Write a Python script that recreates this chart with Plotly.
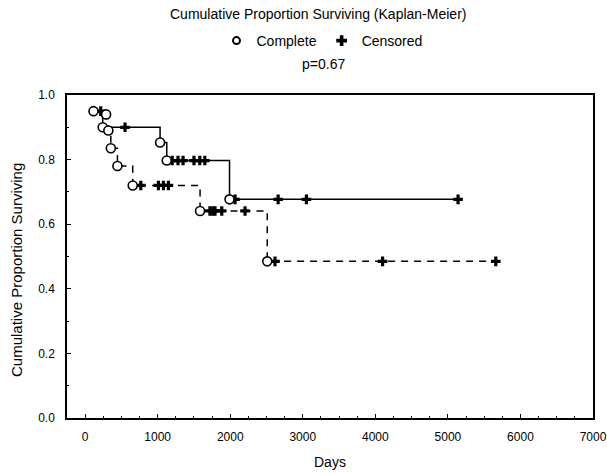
import plotly.graph_objects as go

# group 1 (solid line)
solid_event_days = [115, 242, 1033, 1125, 1990, 5140]
solid_event_surv = [0.95, 0.90, 0.853, 0.797, 0.677, 0.677]
solid_cens_days = [215, 550, 1200, 1280, 1350, 1500, 1580, 1650, 2066, 2660, 3050, 5140]
solid_cens_surv = [0.95, 0.90, 0.797, 0.797, 0.797, 0.797, 0.797, 0.797, 0.677, 0.677, 0.677, 0.677]

# group 2 (dashed line)
dash_event_days = [289, 320, 354, 445, 656, 1584, 2510, 5660]
dash_event_surv = [0.94, 0.89, 0.835, 0.78, 0.72, 0.641, 0.485, 0.485]
dash_cens_days = [767, 1010, 1079, 1148, 1720, 1760, 1790, 1883, 2204, 2617, 4100, 5660]
dash_cens_surv = [0.72, 0.72, 0.72, 0.72, 0.641, 0.641, 0.641, 0.641, 0.641, 0.485, 0.485, 0.485]

x_ticks = [0, 1000, 2000, 3000, 4000, 5000, 6000, 7000]
y_ticks = [0.0, 0.2, 0.4, 0.6, 0.8, 1.0]

fnt = dict(family="Liberation Sans, Arial", size=12, color="black")
big = dict(family="Liberation Sans, Arial", size=14, color="black")

plot_top, plot_bot, plot_left, plot_right = 95, 418, 67, 593
plot_h = plot_bot - plot_top
plot_w = plot_right - plot_left


def py(page_y):
    return (plot_bot - page_y) / plot_h


def px(page_x):
    return (page_x - plot_left) / plot_w


fig = go.Figure()

fig.add_trace(go.Scatter(x=solid_event_days, y=solid_event_surv, mode="lines",
                         line=dict(color="black", width=1.5, shape="hv"), showlegend=False))
fig.add_trace(go.Scatter(x=dash_event_days, y=dash_event_surv, mode="lines",
                         line=dict(color="black", width=1.5, shape="hv", dash="7px,6px"), showlegend=False))

for d, s in [(solid_cens_days, solid_cens_surv), (dash_cens_days, dash_cens_surv)]:
    fig.add_trace(go.Scatter(x=d, y=s, mode="markers",
                             marker=dict(symbol="cross", size=8, color="black", line=dict(width=0)),
                             showlegend=False))

# complete (event) circles, last points of each line are censored only
fig.add_trace(go.Scatter(x=solid_event_days[:-1] + dash_event_days[:-1],
                         y=solid_event_surv[:-1] + dash_event_surv[:-1], mode="markers",
                         marker=dict(symbol="circle", size=9, color="white",
                                     line=dict(color="black", width=1.6)),
                         showlegend=False))

# legend entries
fig.add_trace(go.Scatter(x=[None], y=[None], mode="markers", name="Complete",
                         marker=dict(symbol="circle", size=7, color="white",
                                     line=dict(color="black", width=2))))
fig.add_trace(go.Scatter(x=[None], y=[None], mode="markers", name="Censored",
                         marker=dict(symbol="cross", size=9, color="black", line=dict(width=0))))

fig.update_layout(
    width=607, height=473,
    margin=dict(l=plot_left, r=607 - plot_right, t=plot_top, b=473 - plot_bot, autoexpand=False),
    paper_bgcolor="white", plot_bgcolor="white",
    font=fnt,
    legend=dict(orientation="h", x=px(322), xanchor="center", y=py(41), yanchor="middle",
                font=big, itemwidth=30, tracegroupgap=0),
    annotations=[
        dict(text="Cumulative Proportion Surviving (Kaplan-Meier)", x=px(318), xref="paper",
             y=py(14), yref="paper", yanchor="middle", showarrow=False, font=big),
        dict(text="p=0.67", x=px(323), xref="paper", y=py(64), yref="paper",
             yanchor="middle", showarrow=False, font=big),
        dict(text="Days", x=px(330), xref="paper", y=py(462), yref="paper",
             yanchor="middle", showarrow=False, font=big),
        dict(text="Cumulative Proportion Surviving", x=px(16), xref="paper", y=py(270),
             yref="paper", xanchor="center", yanchor="middle", textangle=-90,
             showarrow=False, font=dict(family="Liberation Sans, Arial", size=15, color="black")),
    ],
)

fig.update_xaxes(range=[-250, 7000], tickvals=x_ticks, ticktext=[str(v) for v in x_ticks],
                 ticks="inside", ticklen=4, tickcolor="black", automargin=False,
                 ticklabelstandoff=7,
                 showline=True, linecolor="black", linewidth=1.5, mirror=True,
                 showgrid=False, zeroline=False,
                 minor=dict(dtick=250, tick0=0, ticks="inside", ticklen=2, tickcolor="black"))
fig.update_yaxes(range=[0, 1], tickvals=y_ticks, ticktext=["%.1f" % v for v in y_ticks],
                 ticks="inside", ticklen=4, tickcolor="black", automargin=False,
                 ticklabelstandoff=8,
                 showline=True, linecolor="black", linewidth=1.5, mirror=True,
                 showgrid=False, zeroline=False,
                 minor=dict(dtick=0.1, tick0=0, ticks="inside", ticklen=2, tickcolor="black"))

fig.write_html("out.html", config={"displayModeBar": False},
               post_script="document.body.style.margin='0';document.body.style.overflow='hidden';")
